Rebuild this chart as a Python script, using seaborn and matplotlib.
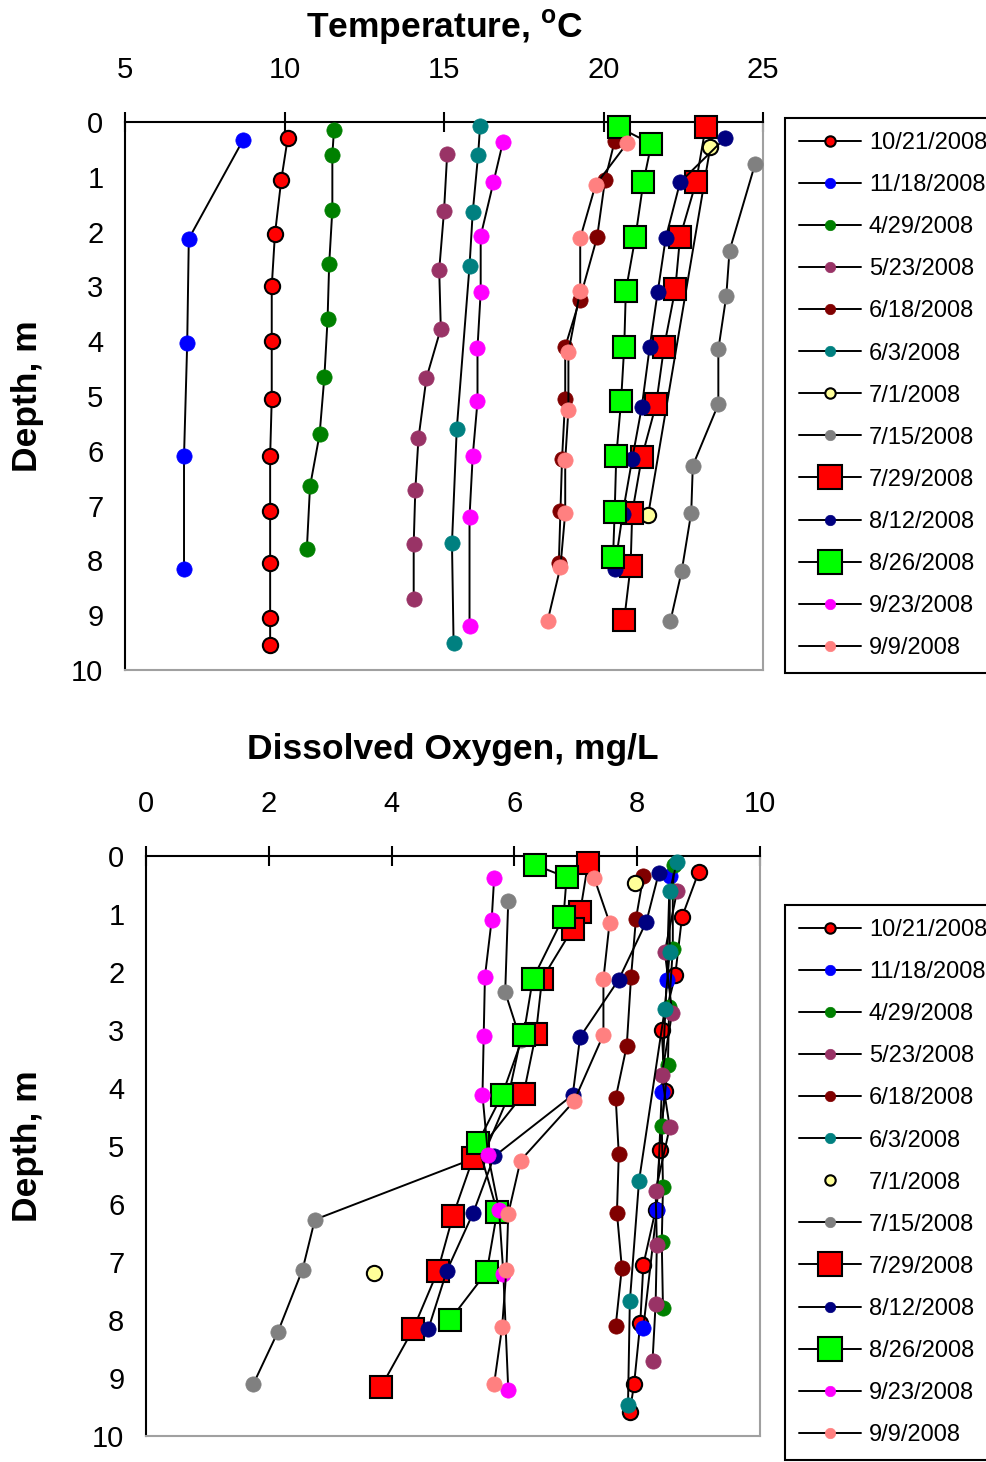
"""
Lake profiles 2008 - temperature and dissolved oxygen vs depth
"""
import matplotlib
matplotlib.use("Agg")
import matplotlib.pyplot as plt
import seaborn as sns

# ---- data ----
dates = ["10/21/2008", "11/18/2008", "4/29/2008", "5/23/2008", "6/18/2008", "6/3/2008",
         "7/1/2008", "7/15/2008", "7/29/2008", "8/12/2008", "8/26/2008", "9/23/2008", "9/9/2008"]

# temperature profiles (depth m, temp C)
tz_1021 = [0.3, 1.05, 2.05, 3.0, 4.0, 5.05, 6.1, 7.1, 8.05, 9.05, 9.55]
t_1021 = [10.1, 9.9, 9.7, 9.6, 9.6, 9.6, 9.55, 9.55, 9.55, 9.55, 9.55]
tz_1118 = [0.33, 2.13, 4.03, 6.1, 8.15]
t_1118 = [8.7, 7.0, 6.95, 6.85, 6.85]
tz_0429 = [0.15, 0.6, 1.6, 2.6, 3.6, 4.65, 5.7, 6.65, 7.8]
t_0429 = [11.55, 11.5, 11.5, 11.4, 11.35, 11.25, 11.1, 10.8, 10.7]
tz_0523 = [0.58, 1.63, 2.7, 3.77, 4.67, 5.77, 6.72, 7.7, 8.7]
t_0523 = [15.1, 15.0, 14.85, 14.9, 14.45, 14.2, 14.1, 14.05, 14.05]
tz_0618 = [0.35, 1.05, 2.1, 3.25, 4.1, 5.05, 6.15, 7.1, 8.05]
t_0618 = [20.35, 20.05, 19.8, 19.25, 18.8, 18.8, 18.7, 18.65, 18.6]
tz_0603 = [0.08, 0.6, 1.65, 2.63, 5.6, 7.68, 9.5]
t_0603 = [16.13, 16.07, 15.9, 15.8, 15.4, 15.25, 15.3]
tz_0701 = [0.45, 7.17]
t_0701 = [23.35, 21.4]
tz_0715 = [0.77, 2.35, 3.17, 4.15, 5.15, 6.27, 7.13, 8.2, 9.1]
t_0715 = [24.75, 23.95, 23.85, 23.6, 23.6, 22.8, 22.75, 22.45, 22.1]
tz_0729 = [0.1, 1.1, 2.1, 3.05, 4.1, 5.15, 6.12, 7.13, 8.1, 9.08]
t_0729 = [23.2, 22.9, 22.4, 22.25, 21.9, 21.65, 21.2, 20.9, 20.85, 20.65]
tz_0812 = [0.3, 1.1, 2.12, 3.1, 4.1, 5.2, 6.15, 7.15, 8.15]
t_0812 = [23.8, 22.4, 21.95, 21.7, 21.45, 21.2, 20.9, 20.6, 20.35]
tz_0826 = [0.1, 0.4, 1.1, 2.1, 3.08, 4.1, 5.1, 6.1, 7.12, 7.93]
t_0826 = [20.5, 21.5, 21.25, 21.0, 20.7, 20.65, 20.55, 20.4, 20.35, 20.3]
tz_0923 = [0.36, 1.1, 2.08, 3.1, 4.12, 5.1, 6.1, 7.2, 9.2]
t_0923 = [16.85, 16.55, 16.15, 16.15, 16.05, 16.05, 15.9, 15.8, 15.8]
tz_0909 = [0.38, 1.15, 2.12, 3.08, 4.2, 5.25, 6.17, 7.13, 8.12, 9.1]
t_0909 = [20.75, 19.75, 19.27, 19.27, 18.9, 18.9, 18.8, 18.8, 18.65, 18.25]

# dissolved oxygen profiles (depth m, DO mg/L)
oz_1021 = [0.28, 1.05, 2.05, 3.0, 4.05, 5.07, 6.1, 7.05, 8.05, 9.1, 9.58]
o_1021 = [9.0, 8.73, 8.62, 8.4, 8.45, 8.37, 8.3, 8.1, 8.05, 7.95, 7.88]
oz_1118 = [0.35, 2.13, 4.07, 6.1, 8.13]
o_1118 = [8.53, 8.48, 8.4, 8.32, 8.1]
oz_0429 = [0.15, 0.6, 1.6, 2.6, 3.6, 4.65, 5.7, 6.65, 7.8]
o_0429 = [8.6, 8.58, 8.58, 8.52, 8.5, 8.4, 8.42, 8.4, 8.42]
oz_0523 = [0.6, 1.65, 2.7, 3.78, 4.68, 5.77, 6.7, 7.72, 8.7]
o_0523 = [8.65, 8.45, 8.57, 8.4, 8.53, 8.3, 8.32, 8.3, 8.25]
oz_0618 = [0.35, 1.08, 2.08, 3.27, 4.17, 5.14, 6.15, 7.1, 8.1]
o_0618 = [8.1, 7.98, 7.9, 7.83, 7.65, 7.7, 7.67, 7.75, 7.65]
oz_0603 = [0.1, 0.6, 1.65, 2.63, 5.6, 7.68, 9.47]
o_0603 = [8.65, 8.53, 8.53, 8.45, 8.03, 7.88, 7.85]
oz_0701 = [0.47, 7.19]
o_0701 = [7.96, 3.71]
oz_0715 = [0.77, 2.35, 3.17, 4.15, 5.15, 6.27, 7.13, 8.2, 9.1]
o_0715 = [5.9, 5.85, 6.1, 5.9, 5.5, 2.75, 2.55, 2.15, 1.75]
oz_0729 = [0.12, 0.97, 1.25, 2.12, 3.07, 4.1, 5.2, 6.2, 7.16, 8.16, 9.15]
o_0729 = [7.2, 7.07, 6.95, 6.45, 6.35, 6.15, 5.33, 5.0, 4.75, 4.35, 3.83]
oz_0812 = [0.3, 1.13, 2.13, 3.12, 4.12, 5.18, 6.15, 7.15, 8.15]
o_0812 = [8.35, 8.15, 7.7, 7.07, 6.95, 5.67, 5.33, 4.9, 4.6]
oz_0826 = [0.15, 0.37, 1.05, 2.12, 3.08, 4.12, 4.95, 6.13, 7.17, 8.0]
o_0826 = [6.33, 6.85, 6.8, 6.3, 6.15, 5.8, 5.4, 5.72, 5.55, 4.95]
oz_0923 = [0.38, 1.1, 2.08, 3.1, 4.12, 5.15, 6.1, 7.2, 9.2]
o_0923 = [5.67, 5.63, 5.52, 5.5, 5.48, 5.57, 5.75, 5.82, 5.9]
oz_0909 = [0.38, 1.15, 2.12, 3.08, 4.23, 5.25, 6.17, 7.13, 8.12, 9.1]
o_0909 = [7.3, 7.55, 7.45, 7.45, 6.97, 6.1, 5.9, 5.87, 5.8, 5.67]

temp_series = [(t_1021, tz_1021), (t_1118, tz_1118), (t_0429, tz_0429), (t_0523, tz_0523),
               (t_0618, tz_0618), (t_0603, tz_0603), (t_0701, tz_0701), (t_0715, tz_0715),
               (t_0729, tz_0729), (t_0812, tz_0812), (t_0826, tz_0826), (t_0923, tz_0923),
               (t_0909, tz_0909)]
do_series = [(o_1021, oz_1021), (o_1118, oz_1118), (o_0429, oz_0429), (o_0523, oz_0523),
             (o_0618, oz_0618), (o_0603, oz_0603), (o_0701, oz_0701), (o_0715, oz_0715),
             (o_0729, oz_0729), (o_0812, oz_0812), (o_0826, oz_0826), (o_0923, oz_0923),
             (o_0909, oz_0909)]

# ---- marker styles (Excel defaults) ----
face = ["#FF0000", "#0000FF", "#008000", "#993366", "#800000", "#008080",
        "#FFFF99", "#808080", "#FF0000", "#000080", "#00FF00", "#FF00FF", "#FF8080"]
edge = ["black", "#0000FF", "#008000", "#993366", "#800000", "#008080",
        "black", "#808080", "black", "#000080", "black", "#FF00FF", "#FF8080"]
marker = ["o", "o", "o", "o", "o", "o", "o", "o", "s", "o", "s", "o", "o"]

sns.set_theme(style="white")
plt.rcParams["font.family"] = ["Liberation Sans", "DejaVu Sans"]
plt.rcParams["text.color"] = "black"
plt.rcParams["mathtext.fontset"] = "custom"
plt.rcParams["mathtext.bf"] = "Liberation Sans:bold"
plt.rcParams["mathtext.rm"] = "Liberation Sans"

W, H = 986, 1462
fig = plt.figure(figsize=(W / 100, H / 100), dpi=100)


def px_axes(left, top, right, bottom):
    return fig.add_axes([left / W, 1 - bottom / H, (right - left) / W, (bottom - top) / H])


def draw_profiles(ax, series, no_line=()):
    for i, (vals, depth) in enumerate(series):
        is_sq = marker[i] == "s"
        sns.lineplot(x=vals, y=depth, ax=ax, sort=False, estimator=None, legend=False,
                     color="black", linewidth=1.4,
                     linestyle="none" if i in no_line else "-",
                     marker=marker[i], markersize=16 if is_sq else 11,
                     markerfacecolor=face[i], markeredgecolor=edge[i],
                     markeredgewidth=1.5 if edge[i] == "black" else 0.5,
                     label=dates[i], clip_on=False, zorder=3 + i * 0.01)


def style_axes(ax, xlim, xticks):
    ax.set_xlim(*xlim)
    ax.set_ylim(10, 0)
    ax.set_xticks(xticks)
    ax.set_yticks(range(0, 11))
    ax.xaxis.tick_top()
    ax.set_xlabel("")
    ax.set_ylabel("")
    ax.tick_params(axis="both", direction="inout", length=15, width=1.5,
                   color="black", labelsize=21, labelcolor="black")
    ax.tick_params(axis="x", pad=20)
    ax.tick_params(axis="y", pad=8)
    for s in ["top", "left"]:
        ax.spines[s].set_color("black")
        ax.spines[s].set_linewidth(1.5)
    for s in ["right", "bottom"]:
        ax.spines[s].set_color("#A0A0A0")
        ax.spines[s].set_linewidth(1.5)


def add_legend(ax, top_px):
    leg = ax.legend(loc="upper left", bbox_to_anchor=(785 / W, 1 - top_px / H),
                    bbox_transform=fig.transFigure, borderaxespad=0, fontsize=17,
                    frameon=True, fancybox=False, edgecolor="black", framealpha=1,
                    handlelength=2.6, handletextpad=0.35, labelspacing=0.85,
                    borderpad=0.6, labelcolor="black")
    leg.get_frame().set_linewidth(1.5)
    for h in leg.legend_handles:
        if h.get_marker() == "s":
            h.set_markersize(17)
        else:
            h.set_markersize(7.5)
    return leg


# ---- temperature ----
ax1 = px_axes(125, 122, 763, 670)
draw_profiles(ax1, temp_series)
style_axes(ax1, (5, 25), [5, 10, 15, 20, 25])
add_legend(ax1, 118)
fig.text(444 / W, 1 - 28 / H, r"Temperature, $\mathbf{^{o}}$C", ha="center", va="center",
         fontsize=25.5, fontweight="bold", color="black")
fig.text(28 / W, 1 - 396 / H, "Depth, m", ha="center", va="center", rotation=90,
         fontsize=25.5, fontweight="bold", color="black")

# ---- dissolved oxygen ----
ax2 = px_axes(146, 856, 760, 1436)
draw_profiles(ax2, do_series, no_line=(6,))
style_axes(ax2, (0, 10), [0, 2, 4, 6, 8, 10])
add_legend(ax2, 905)
fig.text(453 / W, 1 - 750 / H, "Dissolved Oxygen, mg/L", ha="center", va="center",
         fontsize=25.5, fontweight="bold", color="black")
fig.text(28 / W, 1 - 1146 / H, "Depth, m", ha="center", va="center", rotation=90,
         fontsize=25.5, fontweight="bold", color="black")

fig.savefig("out.png", dpi=100)
